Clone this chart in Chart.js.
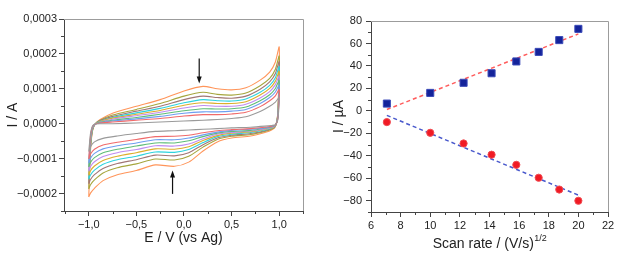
<!DOCTYPE html>
<html>
<head>
<meta charset="utf-8">
<script src="https://cdn.jsdelivr.net/npm/chart.js@4.4.0/dist/chart.umd.min.js"></script>
<style>
  html, body { margin: 0; padding: 0; background: #fff; }
  #wrap { position: relative; width: 624px; height: 253px; }
  canvas { position: absolute; top: 0; }
  #cvChart { left: 0; }
  #rateChart { left: 312px; }
</style>
</head>
<body>
<div id="wrap">
  <canvas id="cvChart" width="312" height="253"></canvas>
  <canvas id="rateChart" width="312" height="253"></canvas>
</div>
<script>
// ---- left panel: CV loops, current in units of 1e-4 A ----
const potential = [-1.0, -0.99, -0.98, -0.96, -0.93, -0.88, -0.75, -0.5, -0.25, 0.0, 0.2, 0.35, 0.5, 0.65, 0.8, 0.9, 0.96, 1.0,
                   0.995, 0.985, 0.96, 0.92, 0.85, 0.7, 0.5, 0.35, 0.2, 0.05, -0.1, -0.3, -0.5, -0.7, -0.85, -0.94, -0.98, -1.0];

const curveGrey   = [-0.8, -0.5, -0.25, -0.06, -0.01, 0.0, 0.0, 0.02, 0.05, 0.08, 0.1, 0.12, 0.15, 0.2, 0.35, 0.5, 0.62, 0.75, 0.4, 0.1, -0.03, -0.05, -0.07, -0.1, -0.12, -0.14, -0.16, -0.18, -0.2, -0.22, -0.28, -0.35, -0.42, -0.52, -0.65, -0.8];
const curveRed    = [-1.01, -0.63, -0.32, -0.08, -0.01, 0.02, 0.05, 0.10, 0.15, 0.22, 0.26, 0.26, 0.28, 0.33, 0.49, 0.66, 0.80, 0.98, 0.53, 0.13, -0.04, -0.07, -0.10, -0.14, -0.17, -0.20, -0.26, -0.33, -0.36, -0.37, -0.45, -0.53, -0.61, -0.73, -0.86, -1.01];
const curveBlue   = [-1.13, -0.70, -0.36, -0.10, -0.01, 0.03, 0.08, 0.14, 0.21, 0.30, 0.34, 0.34, 0.36, 0.41, 0.58, 0.75, 0.91, 1.11, 0.60, 0.15, -0.04, -0.08, -0.12, -0.16, -0.19, -0.24, -0.32, -0.41, -0.46, -0.46, -0.55, -0.63, -0.72, -0.85, -0.98, -1.13];
const curveGreen  = [-1.24, -0.77, -0.40, -0.11, -0.01, 0.04, 0.10, 0.18, 0.27, 0.37, 0.43, 0.42, 0.43, 0.48, 0.66, 0.83, 1.01, 1.24, 0.67, 0.17, -0.05, -0.09, -0.13, -0.19, -0.22, -0.27, -0.37, -0.49, -0.55, -0.55, -0.64, -0.73, -0.83, -0.97, -1.10, -1.24];
const curvePurple = [-1.36, -0.84, -0.44, -0.12, -0.01, 0.05, 0.13, 0.23, 0.33, 0.45, 0.52, 0.50, 0.50, 0.56, 0.74, 0.92, 1.12, 1.37, 0.74, 0.19, -0.05, -0.11, -0.15, -0.21, -0.25, -0.30, -0.43, -0.58, -0.64, -0.63, -0.74, -0.83, -0.94, -1.09, -1.22, -1.36];
const curveGold   = [-1.48, -0.92, -0.48, -0.13, 0.00, 0.06, 0.16, 0.27, 0.38, 0.53, 0.60, 0.58, 0.58, 0.63, 0.82, 1.01, 1.22, 1.50, 0.82, 0.20, -0.06, -0.12, -0.16, -0.23, -0.27, -0.34, -0.48, -0.66, -0.73, -0.72, -0.83, -0.93, -1.05, -1.21, -1.34, -1.48];
const curveCyan   = [-1.59, -0.99, -0.53, -0.15, 0.00, 0.07, 0.18, 0.31, 0.44, 0.60, 0.69, 0.66, 0.65, 0.71, 0.90, 1.10, 1.32, 1.64, 0.89, 0.22, -0.06, -0.13, -0.18, -0.25, -0.30, -0.37, -0.54, -0.74, -0.82, -0.81, -0.93, -1.03, -1.16, -1.33, -1.46, -1.59];
const curveBrown  = [-1.72, -1.07, -0.57, -0.16, 0.00, 0.09, 0.21, 0.36, 0.50, 0.69, 0.79, 0.75, 0.73, 0.79, 0.99, 1.20, 1.44, 1.78, 0.97, 0.24, -0.07, -0.14, -0.20, -0.28, -0.33, -0.41, -0.60, -0.83, -0.92, -0.90, -1.03, -1.14, -1.28, -1.46, -1.59, -1.72];
const curveOlive  = [-1.87, -1.16, -0.62, -0.18, 0.00, 0.10, 0.25, 0.41, 0.58, 0.79, 0.90, 0.84, 0.82, 0.88, 1.09, 1.30, 1.56, 1.94, 1.06, 0.26, -0.07, -0.16, -0.22, -0.31, -0.36, -0.45, -0.67, -0.93, -1.04, -1.01, -1.15, -1.26, -1.41, -1.61, -1.74, -1.87];
const curveOrange = [-2.1, -1.3, -0.7, -0.2, 0.0, 0.12, 0.3, 0.5, 0.69, 0.94, 1.07, 1.0, 0.97, 1.03, 1.25, 1.48, 1.77, 2.2, 1.2, 0.3, -0.08, -0.18, -0.25, -0.35, -0.41, -0.52, -0.78, -1.1, -1.22, -1.18, -1.34, -1.46, -1.63, -1.85, -1.98, -2.1];

const cvCurves = [curveGrey, curveRed, curveBlue, curveGreen, curvePurple, curveGold, curveCyan, curveBrown, curveOlive, curveOrange];
const cvColors = ['#9a9a9a', '#f06a6a', '#6e9ef0', '#5fbd78', '#c08cf0', '#dcae2c', '#2ed3de', '#a07676', '#a6a63e', '#ff955a'];

const cvXTicks = [-1, -0.5, 0, 0.5, 1];
const cvYTicks = [-2, -1, 0, 1, 2, 3];   // x 1e-4 A

// arrows marking growth direction (data units)
const cvArrows = [
  {x: 0.16, from: 1.87, to: 1.15},
  {x: -0.12, from: -2.01, to: -1.34}
];

// ---- right panel: peak current vs sqrt(scan rate) ----
const scanRateSqrt = [7.07, 10, 12.25, 14.14, 15.81, 17.32, 18.71, 20];
const anodicPeak   = [6.5, 16, 25, 33.5, 44, 52.5, 63, 73];
const cathodicPeak = [-10, -19.5, -29, -39, -48, -59.5, -70, -80];
const fitX         = [7.07, 20];
const anodicFit    = [1.2, 68.5];
const cathodicFit  = [-4, -75];

const rateXTicks = [6, 8, 10, 12, 14, 16, 18, 20, 22];
const rateYTicks = [-80, -60, -40, -20, 0, 20, 40, 60, 80];

const FONT = '"Liberation Sans", Arial, sans-serif';
Chart.defaults.font.family = FONT;
Chart.defaults.color = '#222';

function commaNum(v, d) {
  if (Math.abs(v) < 1e-12) v = 0;
  return v.toFixed(d).replace('.', ',').replace('-', '\u2212');
}

// minor ticks + light frame on top/right
const framePlugin = {
  id: 'framePlugin',
  afterDraw(chart, args, opts) {
    const {ctx, chartArea: a, scales} = chart;
    ctx.save();
    ctx.strokeStyle = '#9c9c9c';
    ctx.lineWidth = 1;
    ctx.beginPath();
    ctx.moveTo(a.left, a.top + 0.5);
    ctx.lineTo(a.right + 0.5, a.top + 0.5);
    ctx.lineTo(a.right + 0.5, a.bottom);
    ctx.stroke();
    ctx.strokeStyle = '#444';
    ctx.beginPath();
    (opts.xMinor || []).forEach(v => {
      const px = Math.round(scales.x.getPixelForValue(v)) + 0.5;
      ctx.moveTo(px, a.bottom);
      ctx.lineTo(px, a.bottom + 3);
    });
    (opts.yMinor || []).forEach(v => {
      const py = Math.round(scales.y.getPixelForValue(v)) + 0.5;
      ctx.moveTo(a.left, py);
      ctx.lineTo(a.left - 3, py);
    });
    ctx.stroke();
    ctx.restore();
  }
};

const arrowPlugin = {
  id: 'arrowPlugin',
  afterDatasetsDraw(chart, args, opts) {
    const {ctx, scales} = chart;
    ctx.save();
    ctx.strokeStyle = '#111';
    ctx.fillStyle = '#111';
    ctx.lineWidth = 1.2;
    (opts.arrows || []).forEach(ar => {
      const x = scales.x.getPixelForValue(ar.x);
      const y1 = scales.y.getPixelForValue(ar.from);
      const y2 = scales.y.getPixelForValue(ar.to);
      const dir = y2 > y1 ? 1 : -1;
      ctx.beginPath();
      ctx.moveTo(x, y1);
      ctx.lineTo(x, y2 - dir * 5);
      ctx.stroke();
      ctx.beginPath();
      ctx.moveTo(x, y2);
      ctx.lineTo(x - 2.5, y2 - dir * 7);
      ctx.lineTo(x + 2.5, y2 - dir * 7);
      ctx.closePath();
      ctx.fill();
    });
    ctx.restore();
  }
};

const supTitlePlugin = {
  id: 'supTitlePlugin',
  afterDraw(chart) {
    const {ctx, chartArea: a} = chart;
    const main = 'Scan rate / (V/s)';
    const sup = '1/2';
    ctx.save();
    ctx.fillStyle = '#222';
    ctx.textBaseline = 'alphabetic';
    ctx.font = '14px ' + FONT;
    const w1 = ctx.measureText(main).width;
    ctx.font = '9px ' + FONT;
    const w2 = ctx.measureText(sup).width;
    const x0 = (a.left + a.right) / 2 - (w1 + w2) / 2;
    ctx.font = '14px ' + FONT;
    ctx.fillText(main, x0, 248);
    ctx.font = '9px ' + FONT;
    ctx.fillText(sup, x0 + w1 + 0.5, 241);
    ctx.restore();
  }
};

function axisBase() {
  return {
    type: 'linear',
    border: {display: true, color: '#444', width: 1},
    grid: {display: true, drawOnChartArea: false, drawTicks: true, tickLength: 5, tickColor: '#444'},
    ticks: {font: {size: 11}, color: '#222', padding: 2, maxRotation: 0, autoSkip: false}
  };
}

// left chart
const cvDatasets = cvCurves.map((cur, i) => ({
  data: potential.map((e, j) => ({x: e, y: cur[j]})),
  borderColor: cvColors[i],
  borderWidth: 1.1,
  pointRadius: 0,
  showLine: true,
  tension: 0.25,
  fill: false
}));

const cvX = axisBase();
Object.assign(cvX, {min: -1.26, max: 1.25, position: 'bottom'});
cvX.afterBuildTicks = s => { s.ticks = cvXTicks.map(v => ({value: v})); };
cvX.afterFit = s => { s.height = 42; };
cvX.ticks.callback = v => commaNum(v, 1);
cvX.title = {display: true, text: 'E / V (vs Ag)', font: {size: 14}, color: '#222', padding: {top: 0, bottom: 6}};

const cvY = axisBase();
Object.assign(cvY, {min: -2.5, max: 3, position: 'left'});
cvY.afterBuildTicks = s => { s.ticks = cvYTicks.map(v => ({value: v})); };
cvY.afterFit = s => { s.width = 64; };
cvY.ticks.callback = v => commaNum(v * 1e-4, 4);
cvY.title = {display: true, text: 'I / A', font: {size: 14}, color: '#222', padding: {top: 5, bottom: 0}};

new Chart(document.getElementById('cvChart'), {
  type: 'scatter',
  data: {datasets: cvDatasets},
  options: {
    responsive: false,
    animation: false,
    layout: {padding: {top: 19, right: 9, left: 0, bottom: 0}},
    plugins: {
      legend: {display: false},
      tooltip: {enabled: false},
      framePlugin: {xMinor: [-1.25, -0.75, -0.25, 0.25, 0.75, 1.25], yMinor: [-2.5, -1.5, -0.5, 0.5, 1.5, 2.5]},
      arrowPlugin: {arrows: cvArrows}
    },
    scales: {x: cvX, y: cvY}
  },
  plugins: [framePlugin, arrowPlugin]
});

// right chart
const rX = axisBase();
Object.assign(rX, {min: 6, max: 22, position: 'bottom'});
rX.afterBuildTicks = s => { s.ticks = rateXTicks.map(v => ({value: v})); };
rX.afterFit = s => { s.height = 41; };
rX.ticks.callback = v => String(v);

const rY = axisBase();
Object.assign(rY, {min: -90, max: 80, position: 'left'});
rY.afterBuildTicks = s => { s.ticks = rateYTicks.map(v => ({value: v})); };
rY.afterFit = s => { s.width = 59; };
rY.ticks.callback = v => String(v).replace('-', '\u2212');
rY.ticks.padding = 4;
rY.title = {display: true, text: 'I / \u00b5A', font: {size: 14}, color: '#222', padding: {top: 19, bottom: 0}};

new Chart(document.getElementById('rateChart'), {
  type: 'scatter',
  data: {
    datasets: [
      {
        data: scanRateSqrt.map((x, i) => ({x, y: anodicPeak[i]})),
        pointStyle: 'rect', pointRadius: 5,
        backgroundColor: '#14239a', borderColor: '#3a4ab8', borderWidth: 1
      },
      {
        data: scanRateSqrt.map((x, i) => ({x, y: cathodicPeak[i]})),
        pointStyle: 'circle', pointRadius: 3.6,
        backgroundColor: '#f01a24', borderColor: '#f04a50', borderWidth: 1
      },
      {
        data: fitX.map((x, i) => ({x, y: anodicFit[i]})),
        showLine: true, pointRadius: 0, borderColor: '#ff5c5c', borderWidth: 1.5, borderDash: [4, 3]
      },
      {
        data: fitX.map((x, i) => ({x, y: cathodicFit[i]})),
        showLine: true, pointRadius: 0, borderColor: '#4858cc', borderWidth: 1.5, borderDash: [4, 3]
      }
    ]
  },
  options: {
    responsive: false,
    animation: false,
    layout: {padding: {top: 21, right: 16, left: 0, bottom: 0}},
    plugins: {
      legend: {display: false},
      tooltip: {enabled: false},
      framePlugin: {xMinor: [7, 9, 11, 13, 15, 17, 19, 21], yMinor: [-90, -70, -50, -30, -10, 10, 30, 50, 70]}
    },
    scales: {x: rX, y: rY}
  },
  plugins: [framePlugin, supTitlePlugin]
});
</script>
</body>
</html>
